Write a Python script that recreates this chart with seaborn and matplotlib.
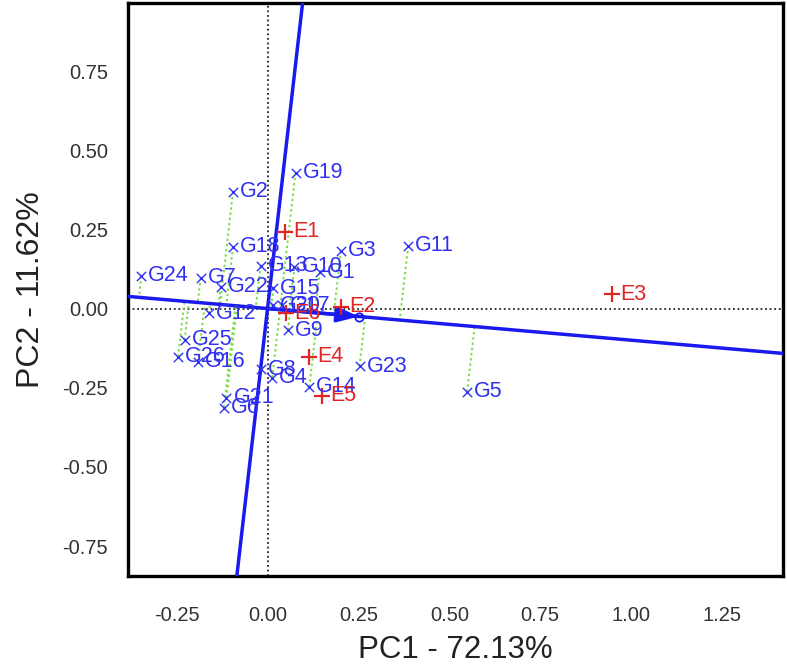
import numpy as np
import pandas as pd
import matplotlib
matplotlib.use("Agg")
import matplotlib.pyplot as plt
import seaborn as sns

# ---- data ----
genotypes = ["G1", "G2", "G3", "G4", "G5", "G6", "G7", "G8", "G9", "G10",
             "G11", "G12", "G13", "G14", "G15", "G16", "G17", "G18", "G19",
             "G20", "G21", "G22", "G23", "G24", "G25", "G26"]
gen_pc1 = [0.143, -0.095, 0.202, 0.013, 0.549, -0.120, -0.184, -0.017, 0.056, 0.074,
           0.387, -0.161, -0.019, 0.115, 0.016, -0.191, 0.041, -0.095, 0.077,
           0.016, -0.113, -0.129, 0.253, -0.347, -0.228, -0.246]
gen_pc2 = [0.114, 0.369, 0.182, -0.218, -0.263, -0.313, 0.097, -0.191, -0.068, 0.132,
           0.198, -0.015, 0.135, -0.247, 0.064, -0.168, 0.011, 0.195, 0.429,
           0.011, -0.282, 0.069, -0.182, 0.103, -0.099, -0.152]

environments = ["E1", "E2", "E3", "E4", "E5", "E6"]
env_pc1 = [0.047, 0.203, 0.947, 0.113, 0.150, 0.051]
env_pc2 = [0.242, 0.005, 0.045, -0.152, -0.276, -0.015]

xticks = [-0.25, 0.00, 0.25, 0.50, 0.75, 1.00, 1.25]
yticks = [-0.75, -0.50, -0.25, 0.00, 0.25, 0.50, 0.75]
xlabel = "PC1 - 72.13%"
ylabel = "PC2 - 11.62%"

BLUE = "#1a1aee"
LBLUE = "#3030f0"
RED = "#e02525"
GREEN = "#77dd44"

sns.set_style("white")
plt.rcParams['font.family'] = ['Liberation Sans', 'DejaVu Sans']

gdf = pd.DataFrame({"name": genotypes, "PC1": gen_pc1, "PC2": gen_pc2})
edf = pd.DataFrame({"name": environments, "PC1": env_pc1, "PC2": env_pc2})

fig = plt.figure(figsize=(7.87, 6.66), dpi=100)
ax = fig.add_axes([0.163, 0.135, 0.832, 0.8605])
ax.set_xlim(-0.383, 1.418)
ax.set_ylim(-0.845, 0.965)

# reference dotted axes
ax.axhline(0, color="black", ls=(0, (1.2, 1.8)), lw=1.1, zorder=1)
ax.axvline(0, color="black", ls=(0, (1.2, 1.8)), lw=1.1, zorder=1)

# average environment coordinate axes
aea = np.array([edf["PC1"].mean(), edf["PC2"].mean()])
u = aea / np.linalg.norm(aea)
ax.axline((0, 0), (aea[0], aea[1]), color=BLUE, lw=2.5, zorder=3)
ax.axline((0, 0), (-aea[1], aea[0]), color=BLUE, lw=2.5, zorder=3)

# projections of genotypes onto the AEC abscissa
for gx, gy in zip(gdf["PC1"], gdf["PC2"]):
    d = gx * u[0] + gy * u[1]
    fx, fy = d * u[0], d * u[1]
    ax.plot([gx, fx], [gy, fy], color=GREEN, ls=(0, (1.2, 1.5)), lw=1.4, zorder=2)

# arrow to average environment
ax.annotate("", xy=(aea[0], aea[1]), xytext=(0, 0),
            arrowprops=dict(arrowstyle="-|>,head_length=1.3,head_width=0.45",
                            color=BLUE, lw=2.5, shrinkA=0, shrinkB=0), zorder=4)
ax.plot([aea[0]], [aea[1]], marker="o", mfc="none", mec=BLUE, ms=6, mew=1.3, zorder=5)

sns.scatterplot(data=gdf, x="PC1", y="PC2", marker="x", color=LBLUE, s=45,
                linewidth=1.0, ax=ax, zorder=5)
sns.scatterplot(data=edf, x="PC1", y="PC2", marker="+", color=RED, s=120,
                linewidth=1.6, ax=ax, zorder=5)

for n, x, y in zip(gdf["name"], gdf["PC1"], gdf["PC2"]):
    ax.annotate(n, (x, y), xytext=(5, 0), textcoords="offset points",
                va="center", ha="left", fontsize=15.5, color=LBLUE, zorder=6)
for n, x, y in zip(edf["name"], edf["PC1"], edf["PC2"]):
    ax.annotate(n, (x, y), xytext=(6, 0), textcoords="offset points",
                va="center", ha="left", fontsize=15.5, color=RED, zorder=6)

ax.set_xticks(xticks)
ax.set_yticks(yticks)
ax.set_xticklabels([f"{t:.2f}" for t in xticks])
ax.set_yticklabels([f"{t:.2f}" for t in yticks])
ax.tick_params(axis="both", direction="out", length=7.5, width=2.2,
               labelsize=14.5, labelcolor="#333333", color="black")
ax.tick_params(axis="x", pad=14)
ax.tick_params(axis="y", pad=7)
for s in ax.spines.values():
    s.set_linewidth(2.4)
    s.set_color("black")

ax.set_xlabel(xlabel, fontsize=22.5, color="#222222", labelpad=7)
ax.set_ylabel(ylabel, fontsize=23, color="#222222", labelpad=12)

fig.savefig("out.png", dpi=100)
